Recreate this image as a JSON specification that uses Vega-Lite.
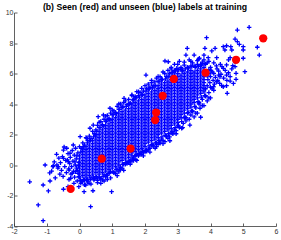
{
"$schema": "https://vega.github.io/schema/vega-lite/v6.json",
"width": 262, "height": 213.5,
"autosize": {"type": "none"},
"padding": {"left": 14, "top": 12.5, "right": 5, "bottom": 14},
"title": {"text": "(b) Seen (red) and unseen (blue) labels at training", "font": "Liberation Sans", "fontSize": 8.7, "fontWeight": "bold", "color": "#000000", "offset": -2.7, "anchor": "middle"},
"config": {"view": {"stroke": null}, "axis": {"grid": false, "domainColor": "#3a3a3a", "domainWidth": 0.8, "tickColor": "#3a3a3a", "tickWidth": 0.8, "tickSize": -3, "labelFont": "Liberation Sans", "labelFontSize": 7, "labelColor": "#333333", "labelPadding": 4, "labelOverlap": false, "labelFlush": false, "title": null}},
"datasets": {
"red": [{"x":-0.27,"y":-1.57},{"x":0.68,"y":0.41},{"x":1.56,"y":1.08},{"x":2.31,"y":2.95},{"x":2.34,"y":3.44},{"x":2.54,"y":4.54},{"x":2.88,"y":5.64},{"x":3.85,"y":6.05},{"x":4.78,"y":6.9},{"x":5.61,"y":8.31}],
"blue": [
{"x":0,"y":-0.8},{"x":0,"y":-0.6},{"x":0,"y":-0.4},{"x":0,"y":-0.2},{"x":0,"y":0},{"x":0,"y":0.2},{"x":0,"y":0.4},{"x":0,"y":0.6},
{"x":0.1,"y":-0.7},{"x":0.1,"y":-0.5},{"x":0.1,"y":-0.3},{"x":0.1,"y":-0.1},{"x":0.1,"y":0.1},{"x":0.1,"y":0.3},{"x":0.1,"y":0.5},{"x":0.1,"y":0.7},{"x":0.1,"y":0.9},
{"x":0.2,"y":-0.8},{"x":0.2,"y":-0.6},{"x":0.2,"y":-0.4},{"x":0.2,"y":-0.2},{"x":0.2,"y":0},{"x":0.2,"y":0.2},{"x":0.2,"y":0.4},{"x":0.2,"y":0.6},{"x":0.2,"y":0.8},{"x":0.2,"y":1},{"x":0.2,"y":1.2},
{"x":0.3,"y":-0.7},{"x":0.3,"y":-0.5},{"x":0.3,"y":-0.3},{"x":0.3,"y":-0.1},{"x":0.3,"y":0.1},{"x":0.3,"y":0.3},{"x":0.3,"y":0.5},{"x":0.3,"y":0.7},{"x":0.3,"y":0.9},{"x":0.3,"y":1.1},{"x":0.3,"y":1.3},
{"x":0.4,"y":-0.6},{"x":0.4,"y":-0.4},{"x":0.4,"y":-0.2},{"x":0.4,"y":0},{"x":0.4,"y":0.2},{"x":0.4,"y":0.4},{"x":0.4,"y":0.6},{"x":0.4,"y":0.8},{"x":0.4,"y":1},{"x":0.4,"y":1.2},{"x":0.4,"y":1.4},{"x":0.4,"y":1.6},
{"x":0.5,"y":-0.5},{"x":0.5,"y":-0.3},{"x":0.5,"y":-0.1},{"x":0.5,"y":0.1},{"x":0.5,"y":0.3},{"x":0.5,"y":0.5},{"x":0.5,"y":0.7},{"x":0.5,"y":0.9},{"x":0.5,"y":1.1},{"x":0.5,"y":1.3},{"x":0.5,"y":1.5},{"x":0.5,"y":1.7},{"x":0.5,"y":1.9},
{"x":0.6,"y":-0.6},{"x":0.6,"y":-0.4},{"x":0.6,"y":-0.2},{"x":0.6,"y":0},{"x":0.6,"y":0.2},{"x":0.6,"y":0.4},{"x":0.6,"y":0.6},{"x":0.6,"y":0.8},{"x":0.6,"y":1},{"x":0.6,"y":1.2},{"x":0.6,"y":1.4},{"x":0.6,"y":1.6},{"x":0.6,"y":1.8},{"x":0.6,"y":2},{"x":0.6,"y":2.2},
{"x":0.7,"y":-0.5},{"x":0.7,"y":-0.3},{"x":0.7,"y":-0.1},{"x":0.7,"y":0.1},{"x":0.7,"y":0.3},{"x":0.7,"y":0.5},{"x":0.7,"y":0.7},{"x":0.7,"y":0.9},{"x":0.7,"y":1.1},{"x":0.7,"y":1.3},{"x":0.7,"y":1.5},{"x":0.7,"y":1.7},{"x":0.7,"y":1.9},{"x":0.7,"y":2.1},{"x":0.7,"y":2.3},
{"x":0.8,"y":-0.4},{"x":0.8,"y":-0.2},{"x":0.8,"y":0},{"x":0.8,"y":0.2},{"x":0.8,"y":0.4},{"x":0.8,"y":0.6},{"x":0.8,"y":0.8},{"x":0.8,"y":1},{"x":0.8,"y":1.2},{"x":0.8,"y":1.4},{"x":0.8,"y":1.6},{"x":0.8,"y":1.8},{"x":0.8,"y":2},{"x":0.8,"y":2.2},{"x":0.8,"y":2.4},{"x":0.8,"y":2.6},
{"x":0.9,"y":-0.3},{"x":0.9,"y":-0.1},{"x":0.9,"y":0.1},{"x":0.9,"y":0.3},{"x":0.9,"y":0.5},{"x":0.9,"y":0.7},{"x":0.9,"y":0.9},{"x":0.9,"y":1.1},{"x":0.9,"y":1.3},{"x":0.9,"y":1.5},{"x":0.9,"y":1.7},{"x":0.9,"y":1.9},{"x":0.9,"y":2.1},{"x":0.9,"y":2.3},{"x":0.9,"y":2.5},{"x":0.9,"y":2.7},
{"x":1,"y":-0.2},{"x":1,"y":0},{"x":1,"y":0.2},{"x":1,"y":0.4},{"x":1,"y":0.6},{"x":1,"y":0.8},{"x":1,"y":1},{"x":1,"y":1.2},{"x":1,"y":1.4},{"x":1,"y":1.6},{"x":1,"y":1.8},{"x":1,"y":2},{"x":1,"y":2.2},{"x":1,"y":2.4},{"x":1,"y":2.6},{"x":1,"y":2.8},{"x":1,"y":3},
{"x":1.1,"y":-0.1},{"x":1.1,"y":0.1},{"x":1.1,"y":0.3},{"x":1.1,"y":0.5},{"x":1.1,"y":0.7},{"x":1.1,"y":0.9},{"x":1.1,"y":1.1},{"x":1.1,"y":1.3},{"x":1.1,"y":1.5},{"x":1.1,"y":1.7},{"x":1.1,"y":1.9},{"x":1.1,"y":2.1},{"x":1.1,"y":2.3},{"x":1.1,"y":2.5},{"x":1.1,"y":2.7},{"x":1.1,"y":2.9},{"x":1.1,"y":3.1},
{"x":1.2,"y":0},{"x":1.2,"y":0.2},{"x":1.2,"y":0.4},{"x":1.2,"y":0.6},{"x":1.2,"y":0.8},{"x":1.2,"y":1},{"x":1.2,"y":1.2},{"x":1.2,"y":1.4},{"x":1.2,"y":1.6},{"x":1.2,"y":1.8},{"x":1.2,"y":2},{"x":1.2,"y":2.2},{"x":1.2,"y":2.4},{"x":1.2,"y":2.6},{"x":1.2,"y":2.8},{"x":1.2,"y":3},{"x":1.2,"y":3.2},{"x":1.2,"y":3.4},
{"x":1.3,"y":0.3},{"x":1.3,"y":0.5},{"x":1.3,"y":0.7},{"x":1.3,"y":0.9},{"x":1.3,"y":1.1},{"x":1.3,"y":1.3},{"x":1.3,"y":1.5},{"x":1.3,"y":1.7},{"x":1.3,"y":1.9},{"x":1.3,"y":2.1},{"x":1.3,"y":2.3},{"x":1.3,"y":2.5},{"x":1.3,"y":2.7},{"x":1.3,"y":2.9},{"x":1.3,"y":3.1},{"x":1.3,"y":3.3},{"x":1.3,"y":3.5},
{"x":1.4,"y":0.4},{"x":1.4,"y":0.6},{"x":1.4,"y":0.8},{"x":1.4,"y":1},{"x":1.4,"y":1.2},{"x":1.4,"y":1.4},{"x":1.4,"y":1.6},{"x":1.4,"y":1.8},{"x":1.4,"y":2},{"x":1.4,"y":2.2},{"x":1.4,"y":2.4},{"x":1.4,"y":2.6},{"x":1.4,"y":2.8},{"x":1.4,"y":3},{"x":1.4,"y":3.2},{"x":1.4,"y":3.4},{"x":1.4,"y":3.6},
{"x":1.5,"y":0.5},{"x":1.5,"y":0.7},{"x":1.5,"y":0.9},{"x":1.5,"y":1.1},{"x":1.5,"y":1.3},{"x":1.5,"y":1.5},{"x":1.5,"y":1.7},{"x":1.5,"y":1.9},{"x":1.5,"y":2.1},{"x":1.5,"y":2.3},{"x":1.5,"y":2.5},{"x":1.5,"y":2.7},{"x":1.5,"y":2.9},{"x":1.5,"y":3.1},{"x":1.5,"y":3.3},{"x":1.5,"y":3.5},{"x":1.5,"y":3.7},
{"x":1.6,"y":0.6},{"x":1.6,"y":0.8},{"x":1.6,"y":1},{"x":1.6,"y":1.2},{"x":1.6,"y":1.4},{"x":1.6,"y":1.6},{"x":1.6,"y":1.8},{"x":1.6,"y":2},{"x":1.6,"y":2.2},{"x":1.6,"y":2.4},{"x":1.6,"y":2.6},{"x":1.6,"y":2.8},{"x":1.6,"y":3},{"x":1.6,"y":3.2},{"x":1.6,"y":3.4},{"x":1.6,"y":3.6},{"x":1.6,"y":3.8},{"x":1.6,"y":4},
{"x":1.7,"y":0.9},{"x":1.7,"y":1.1},{"x":1.7,"y":1.3},{"x":1.7,"y":1.5},{"x":1.7,"y":1.7},{"x":1.7,"y":1.9},{"x":1.7,"y":2.1},{"x":1.7,"y":2.3},{"x":1.7,"y":2.5},{"x":1.7,"y":2.7},{"x":1.7,"y":2.9},{"x":1.7,"y":3.1},{"x":1.7,"y":3.3},{"x":1.7,"y":3.5},{"x":1.7,"y":3.7},{"x":1.7,"y":3.9},{"x":1.7,"y":4.1},
{"x":1.8,"y":1},{"x":1.8,"y":1.2},{"x":1.8,"y":1.4},{"x":1.8,"y":1.6},{"x":1.8,"y":1.8},{"x":1.8,"y":2},{"x":1.8,"y":2.2},{"x":1.8,"y":2.4},{"x":1.8,"y":2.6},{"x":1.8,"y":2.8},{"x":1.8,"y":3},{"x":1.8,"y":3.2},{"x":1.8,"y":3.4},{"x":1.8,"y":3.6},{"x":1.8,"y":3.8},{"x":1.8,"y":4},{"x":1.8,"y":4.2},
{"x":1.9,"y":1.1},{"x":1.9,"y":1.3},{"x":1.9,"y":1.5},{"x":1.9,"y":1.7},{"x":1.9,"y":1.9},{"x":1.9,"y":2.1},{"x":1.9,"y":2.3},{"x":1.9,"y":2.5},{"x":1.9,"y":2.7},{"x":1.9,"y":2.9},{"x":1.9,"y":3.1},{"x":1.9,"y":3.3},{"x":1.9,"y":3.5},{"x":1.9,"y":3.7},{"x":1.9,"y":3.9},{"x":1.9,"y":4.1},{"x":1.9,"y":4.3},
{"x":2,"y":1.2},{"x":2,"y":1.4},{"x":2,"y":1.6},{"x":2,"y":1.8},{"x":2,"y":2},{"x":2,"y":2.2},{"x":2,"y":2.4},{"x":2,"y":2.6},{"x":2,"y":2.8},{"x":2,"y":3},{"x":2,"y":3.2},{"x":2,"y":3.4},{"x":2,"y":3.6},{"x":2,"y":3.8},{"x":2,"y":4},{"x":2,"y":4.2},{"x":2,"y":4.4},{"x":2,"y":4.6},
{"x":2.1,"y":1.5},{"x":2.1,"y":1.7},{"x":2.1,"y":1.9},{"x":2.1,"y":2.1},{"x":2.1,"y":2.3},{"x":2.1,"y":2.5},{"x":2.1,"y":2.7},{"x":2.1,"y":2.9},{"x":2.1,"y":3.1},{"x":2.1,"y":3.3},{"x":2.1,"y":3.5},{"x":2.1,"y":3.7},{"x":2.1,"y":3.9},{"x":2.1,"y":4.1},{"x":2.1,"y":4.3},{"x":2.1,"y":4.5},{"x":2.1,"y":4.7},
{"x":2.2,"y":1.6},{"x":2.2,"y":1.8},{"x":2.2,"y":2},{"x":2.2,"y":2.2},{"x":2.2,"y":2.4},{"x":2.2,"y":2.6},{"x":2.2,"y":2.8},{"x":2.2,"y":3},{"x":2.2,"y":3.2},{"x":2.2,"y":3.4},{"x":2.2,"y":3.6},{"x":2.2,"y":3.8},{"x":2.2,"y":4},{"x":2.2,"y":4.2},{"x":2.2,"y":4.4},{"x":2.2,"y":4.6},{"x":2.2,"y":4.8},
{"x":2.3,"y":1.7},{"x":2.3,"y":1.9},{"x":2.3,"y":2.1},{"x":2.3,"y":2.3},{"x":2.3,"y":2.5},{"x":2.3,"y":2.7},{"x":2.3,"y":2.9},{"x":2.3,"y":3.1},{"x":2.3,"y":3.3},{"x":2.3,"y":3.5},{"x":2.3,"y":3.7},{"x":2.3,"y":3.9},{"x":2.3,"y":4.1},{"x":2.3,"y":4.3},{"x":2.3,"y":4.5},{"x":2.3,"y":4.7},{"x":2.3,"y":4.9},
{"x":2.4,"y":1.8},{"x":2.4,"y":2},{"x":2.4,"y":2.2},{"x":2.4,"y":2.4},{"x":2.4,"y":2.6},{"x":2.4,"y":2.8},{"x":2.4,"y":3},{"x":2.4,"y":3.2},{"x":2.4,"y":3.4},{"x":2.4,"y":3.6},{"x":2.4,"y":3.8},{"x":2.4,"y":4},{"x":2.4,"y":4.2},{"x":2.4,"y":4.4},{"x":2.4,"y":4.6},{"x":2.4,"y":4.8},{"x":2.4,"y":5},{"x":2.4,"y":5.2},
{"x":2.5,"y":2.1},{"x":2.5,"y":2.3},{"x":2.5,"y":2.5},{"x":2.5,"y":2.7},{"x":2.5,"y":2.9},{"x":2.5,"y":3.1},{"x":2.5,"y":3.3},{"x":2.5,"y":3.5},{"x":2.5,"y":3.7},{"x":2.5,"y":3.9},{"x":2.5,"y":4.1},{"x":2.5,"y":4.3},{"x":2.5,"y":4.5},{"x":2.5,"y":4.7},{"x":2.5,"y":4.9},{"x":2.5,"y":5.1},{"x":2.5,"y":5.3},
{"x":2.6,"y":2.2},{"x":2.6,"y":2.4},{"x":2.6,"y":2.6},{"x":2.6,"y":2.8},{"x":2.6,"y":3},{"x":2.6,"y":3.2},{"x":2.6,"y":3.4},{"x":2.6,"y":3.6},{"x":2.6,"y":3.8},{"x":2.6,"y":4},{"x":2.6,"y":4.2},{"x":2.6,"y":4.4},{"x":2.6,"y":4.6},{"x":2.6,"y":4.8},{"x":2.6,"y":5},{"x":2.6,"y":5.2},{"x":2.6,"y":5.4},
{"x":2.7,"y":2.3},{"x":2.7,"y":2.5},{"x":2.7,"y":2.7},{"x":2.7,"y":2.9},{"x":2.7,"y":3.1},{"x":2.7,"y":3.3},{"x":2.7,"y":3.5},{"x":2.7,"y":3.7},{"x":2.7,"y":3.9},{"x":2.7,"y":4.1},{"x":2.7,"y":4.3},{"x":2.7,"y":4.5},{"x":2.7,"y":4.7},{"x":2.7,"y":4.9},{"x":2.7,"y":5.1},{"x":2.7,"y":5.3},{"x":2.7,"y":5.5},
{"x":2.8,"y":2.4},{"x":2.8,"y":2.6},{"x":2.8,"y":2.8},{"x":2.8,"y":3},{"x":2.8,"y":3.2},{"x":2.8,"y":3.4},{"x":2.8,"y":3.6},{"x":2.8,"y":3.8},{"x":2.8,"y":4},{"x":2.8,"y":4.2},{"x":2.8,"y":4.4},{"x":2.8,"y":4.6},{"x":2.8,"y":4.8},{"x":2.8,"y":5},{"x":2.8,"y":5.2},{"x":2.8,"y":5.4},{"x":2.8,"y":5.6},{"x":2.8,"y":5.8},
{"x":2.9,"y":2.7},{"x":2.9,"y":2.9},{"x":2.9,"y":3.1},{"x":2.9,"y":3.3},{"x":2.9,"y":3.5},{"x":2.9,"y":3.7},{"x":2.9,"y":3.9},{"x":2.9,"y":4.1},{"x":2.9,"y":4.3},{"x":2.9,"y":4.5},{"x":2.9,"y":4.7},{"x":2.9,"y":4.9},{"x":2.9,"y":5.1},{"x":2.9,"y":5.3},{"x":2.9,"y":5.5},{"x":2.9,"y":5.7},{"x":2.9,"y":5.9},
{"x":3,"y":2.8},{"x":3,"y":3},{"x":3,"y":3.2},{"x":3,"y":3.4},{"x":3,"y":3.6},{"x":3,"y":3.8},{"x":3,"y":4},{"x":3,"y":4.2},{"x":3,"y":4.4},{"x":3,"y":4.6},{"x":3,"y":4.8},{"x":3,"y":5},{"x":3,"y":5.2},{"x":3,"y":5.4},{"x":3,"y":5.6},{"x":3,"y":5.8},{"x":3,"y":6},
{"x":3.1,"y":3.1},{"x":3.1,"y":3.3},{"x":3.1,"y":3.5},{"x":3.1,"y":3.7},{"x":3.1,"y":3.9},{"x":3.1,"y":4.1},{"x":3.1,"y":4.3},{"x":3.1,"y":4.5},{"x":3.1,"y":4.7},{"x":3.1,"y":4.9},{"x":3.1,"y":5.1},{"x":3.1,"y":5.3},{"x":3.1,"y":5.5},{"x":3.1,"y":5.7},{"x":3.1,"y":5.9},
{"x":3.2,"y":3.4},{"x":3.2,"y":3.6},{"x":3.2,"y":3.8},{"x":3.2,"y":4},{"x":3.2,"y":4.2},{"x":3.2,"y":4.4},{"x":3.2,"y":4.6},{"x":3.2,"y":4.8},{"x":3.2,"y":5},{"x":3.2,"y":5.2},{"x":3.2,"y":5.4},{"x":3.2,"y":5.6},{"x":3.2,"y":5.8},{"x":3.2,"y":6},
{"x":3.3,"y":3.7},{"x":3.3,"y":3.9},{"x":3.3,"y":4.1},{"x":3.3,"y":4.3},{"x":3.3,"y":4.5},{"x":3.3,"y":4.7},{"x":3.3,"y":4.9},{"x":3.3,"y":5.1},{"x":3.3,"y":5.3},{"x":3.3,"y":5.5},{"x":3.3,"y":5.7},{"x":3.3,"y":5.9},{"x":3.3,"y":6.1},
{"x":3.4,"y":3.8},{"x":3.4,"y":4},{"x":3.4,"y":4.2},{"x":3.4,"y":4.4},{"x":3.4,"y":4.6},{"x":3.4,"y":4.8},{"x":3.4,"y":5},{"x":3.4,"y":5.2},{"x":3.4,"y":5.4},{"x":3.4,"y":5.6},{"x":3.4,"y":5.8},{"x":3.4,"y":6},{"x":3.4,"y":6.2},
{"x":3.5,"y":4.1},{"x":3.5,"y":4.3},{"x":3.5,"y":4.5},{"x":3.5,"y":4.7},{"x":3.5,"y":4.9},{"x":3.5,"y":5.1},{"x":3.5,"y":5.3},{"x":3.5,"y":5.5},{"x":3.5,"y":5.7},{"x":3.5,"y":5.9},{"x":3.5,"y":6.1},
{"x":3.6,"y":4.4},{"x":3.6,"y":4.6},{"x":3.6,"y":4.8},{"x":3.6,"y":5},{"x":3.6,"y":5.2},{"x":3.6,"y":5.4},{"x":3.6,"y":5.6},{"x":3.6,"y":5.8},{"x":3.6,"y":6},{"x":3.6,"y":6.2},
{"x":3.7,"y":4.7},{"x":3.7,"y":4.9},{"x":3.7,"y":5.1},{"x":3.7,"y":5.3},{"x":3.7,"y":5.5},{"x":3.7,"y":5.7},{"x":3.7,"y":5.9},{"x":3.7,"y":6.1},{"x":3.7,"y":6.3},
{"x":3.8,"y":4.8},{"x":3.8,"y":5},{"x":3.8,"y":5.2},{"x":3.8,"y":5.4},{"x":3.8,"y":5.6},{"x":3.8,"y":5.8},{"x":3.8,"y":6},{"x":3.8,"y":6.2},{"x":3.8,"y":6.4},
{"x":-1.52,"y":-1.1},{"x":-1.26,"y":-2.62},{"x":-1.11,"y":-3.65},{"x":-1.05,"y":0},{"x":-0.95,"y":-1.7},{"x":-1.11,"y":-1.31},{"x":-0.9,"y":-1.05},{"x":-0.91,"y":-0.52},{"x":-0.81,"y":-0.11},{"x":-0.69,"y":0},{"x":-0.49,"y":-1.59},{"x":-0.35,"y":-1.42},{"x":0.34,"y":-2.73},{"x":0.41,"y":-1.69},{"x":0.14,"y":-1.75},{"x":0.65,"y":-1.2},{"x":0.98,"y":-1.75},{"x":0.04,"y":-1.2},{"x":-0.8,"y":-0.05},{"x":-0.65,"y":-0.11},{"x":-0.34,"y":0.22},{"x":-0.24,"y":-0.11},{"x":-0.49,"y":0.98},{"x":-0.39,"y":1.1},{"x":-0.19,"y":1.31},{"x":-0.29,"y":0.77},{"x":-0.49,"y":0.44},{"x":0.02,"y":1.86},{"x":0.22,"y":1.75},{"x":0.32,"y":2.41},{"x":0.42,"y":2.62},{"x":0.57,"y":3.17},{"x":0.73,"y":3.28},{"x":0.93,"y":3.72},{"x":1.36,"y":4.37},{"x":-0.32,"y":-0.33},{"x":-0.22,"y":-0.54},{"x":-0.12,"y":-0.44},{"x":-0.27,"y":-0.87},{"x":-0.02,"y":-0.77},{"x":-0.17,"y":-1.2},{"x":0.09,"y":-1.09},{"x":0.19,"y":-1.31},{"x":0.29,"y":-1.2},{"x":0.44,"y":-0.98},{"x":0.7,"y":-0.98},{"x":0.8,"y":-0.77},{"x":0.9,"y":-0.54},
{"x":-0.58,"y":0.15},{"x":-0.55,"y":-0.35},{"x":-0.52,"y":0.55},{"x":-0.5,"y":-0.75},{"x":-0.47,"y":1.18},{"x":-0.45,"y":-0.1},{"x":-0.42,"y":0.3},{"x":-0.4,"y":-0.5},{"x":-0.37,"y":0.33},{"x":-0.35,"y":0.75},{"x":-0.33,"y":-0.25},{"x":-0.32,"y":-0.95},{"x":-0.3,"y":0.1},{"x":-0.28,"y":0.5},{"x":-0.26,"y":-0.6},{"x":-0.22,"y":0.95},{"x":-0.2,"y":0.25},{"x":-0.18,"y":-0.4},{"x":-0.16,"y":0.65},{"x":-0.15,"y":-0.8},{"x":-0.13,"y":0},{"x":-0.12,"y":1.1},{"x":-0.1,"y":0.4},{"x":-0.09,"y":-0.2},{"x":-0.07,"y":-1.05},{"x":-0.05,"y":0.8},{"x":-0.04,"y":-0.55},{"x":-0.02,"y":0.15},{"x":-0.02,"y":-1.42},{"x":-0.6,"y":-0.6},{"x":-0.63,"y":0.45},{"x":-0.66,"y":-0.2},{"x":-0.7,"y":0.7},{"x":-0.74,"y":-0.85},{"x":-0.77,"y":0.2},{"x":-0.85,"y":-0.4},{"x":-0.06,"y":-0.35},{"x":-0.08,"y":0.6},{"x":-0.14,"y":0.2},{"x":-0.03,"y":-0.05},
{"x":0.15,"y":-1},{"x":0.25,"y":-0.95},{"x":0.35,"y":-0.85},{"x":0.5,"y":-0.75},{"x":0.55,"y":-1},{"x":0.6,"y":-0.8},{"x":0.75,"y":-0.65},{"x":0.85,"y":-0.95},{"x":0.95,"y":-0.45},{"x":1.05,"y":-0.5},{"x":1.1,"y":-0.55},{"x":1.15,"y":-0.3},{"x":1.2,"y":-0.45},{"x":1.25,"y":-0.15},{"x":1.3,"y":-0.2},{"x":1.35,"y":0.05},{"x":1.4,"y":0.05},{"x":1.45,"y":0.2},{"x":1.5,"y":0.2},{"x":1.55,"y":0.3},{"x":1.6,"y":0.25},{"x":1.65,"y":0.45},{"x":1.69,"y":0.59},{"x":1.72,"y":0.35},{"x":1.75,"y":0.7},{"x":1.8,"y":0.6},{"x":1.85,"y":0.8},{"x":1.9,"y":0.7},{"x":1.95,"y":0.87},{"x":2,"y":0.85},{"x":2.05,"y":1},{"x":2.1,"y":1.03},{"x":2.15,"y":1.1},{"x":2.2,"y":1.3},{"x":2.25,"y":1.25},{"x":2.31,"y":1.1},{"x":2.35,"y":1.45},{"x":2.4,"y":1.35},{"x":2.46,"y":1.42},{"x":2.5,"y":1.7},{"x":2.55,"y":1.6},{"x":2.61,"y":1.53},{"x":2.65,"y":1.9},{"x":2.7,"y":1.75},{"x":2.76,"y":1.59},{"x":2.8,"y":2.1},{"x":2.85,"y":2.05},{"x":2.9,"y":2.3},{"x":2.95,"y":2.25},{"x":3,"y":2.55},{"x":3.05,"y":2.45},{"x":3.12,"y":2.41},{"x":3.17,"y":2.73},{"x":3.2,"y":3.1},{"x":3.25,"y":2.9},{"x":3.3,"y":3.4},{"x":3.37,"y":2.62},{"x":3.4,"y":3.28},{"x":3.45,"y":3.55},{"x":3.5,"y":3.15},{"x":3.55,"y":3.75},{"x":3.6,"y":3.4},{"x":3.65,"y":4},{"x":3.7,"y":3.13},{"x":3.68,"y":3.72},{"x":3.75,"y":4.3},{"x":3.8,"y":3.9},{"x":3.85,"y":4.55},{"x":3.9,"y":4.2},{"x":3.95,"y":4.75},{"x":4,"y":4.4},{"x":4.1,"y":4.9},{"x":4.09,"y":5.13},{"x":4.19,"y":5.46},{"x":4.34,"y":5.2},{"x":4.39,"y":5.13},{"x":4.51,"y":4.7},{"x":4.49,"y":5.2},{"x":4.6,"y":5.5},
{"x":0.05,"y":1.1},{"x":0.1,"y":1.45},{"x":0.15,"y":1.3},{"x":0.25,"y":1.6},{"x":0.3,"y":1.9},{"x":0.35,"y":1.75},{"x":0.45,"y":2.05},{"x":0.5,"y":2.3},{"x":0.55,"y":2.6},{"x":0.6,"y":2.45},{"x":0.65,"y":2.85},{"x":0.7,"y":2.65},{"x":0.75,"y":3},{"x":0.8,"y":2.85},{"x":0.85,"y":3.25},{"x":0.9,"y":3.05},{"x":0.95,"y":3.4},{"x":1,"y":3.3},{"x":1.05,"y":3.55},{"x":1.1,"y":3.45},{"x":1.15,"y":3.85},{"x":1.2,"y":3.65},{"x":1.25,"y":4},{"x":1.3,"y":3.8},{"x":1.35,"y":4.1},{"x":1.45,"y":3.95},{"x":1.5,"y":4.3},{"x":1.55,"y":4.05},{"x":1.6,"y":4.55},{"x":1.65,"y":4.3},{"x":1.75,"y":4.81},{"x":1.7,"y":4.5},{"x":1.8,"y":4.55},{"x":1.85,"y":4.75},{"x":1.9,"y":5.03},{"x":1.95,"y":4.85},{"x":2.03,"y":5.9},{"x":2.05,"y":5},{"x":2.1,"y":5.3},{"x":2.15,"y":5.1},{"x":2.2,"y":5.55},{"x":2.25,"y":5.2},{"x":2.3,"y":5.45},{"x":2.35,"y":5.7},{"x":2.4,"y":5.5},{"x":2.46,"y":5.79},{"x":2.5,"y":5.6},{"x":2.55,"y":6.1},{"x":2.61,"y":6.82},{"x":2.65,"y":5.8},{"x":2.71,"y":6.77},{"x":2.7,"y":6.2},{"x":2.75,"y":6},{"x":2.8,"y":6.4},{"x":2.85,"y":6.1},{"x":2.9,"y":6.6},{"x":2.97,"y":6.34},{"x":3,"y":6.25},{"x":3.05,"y":6.8},{"x":3.1,"y":6.4},{"x":3.15,"y":6.2},{"x":3.2,"y":6.55},{"x":3.25,"y":7.21},{"x":3.29,"y":7.65},{"x":3.3,"y":6.4},{"x":3.35,"y":6.9},{"x":3.4,"y":6.5},{"x":3.45,"y":6.7},{"x":3.5,"y":7.21},{"x":3.55,"y":6.45},{"x":3.6,"y":6.85},{"x":3.63,"y":6.93},{"x":3.66,"y":7},{"x":3.7,"y":6.55},{"x":3.75,"y":6.75},{"x":3.8,"y":7.2},{"x":3.83,"y":7.65},{"x":3.88,"y":8.35},{"x":3.85,"y":6.6},{"x":3.93,"y":7.04},{"x":3.95,"y":6.8},{"x":4,"y":6.4},{"x":4.04,"y":7.48},{"x":4.05,"y":6.1},{"x":4.1,"y":6.7},{"x":4.14,"y":7.65},{"x":4.19,"y":7.04},{"x":4.2,"y":6.3},{"x":4.25,"y":5.9},{"x":4.29,"y":5.79},{"x":4.3,"y":6.6},{"x":4.39,"y":6.34},{"x":4.39,"y":7.76},{"x":4.44,"y":7.54},{"x":4.49,"y":7.82},{"x":4.49,"y":6.56},{"x":4.49,"y":5.9},{"x":4.55,"y":6.9},{"x":4.6,"y":7.04},{"x":4.62,"y":7.76},{"x":4.65,"y":7.54},{"x":4.68,"y":6.51},{"x":4.75,"y":6.77},{"x":4.75,"y":6.45},{"x":4.75,"y":8.26},{"x":4.78,"y":6.01},{"x":4.78,"y":5.62},{"x":4.82,"y":8.85},{"x":4.82,"y":8.09},{"x":4.88,"y":7.91},{"x":5,"y":7.76},{"x":5,"y":7.54},{"x":5,"y":7},{"x":5.05,"y":6.12},{"x":5.18,"y":9.03},{"x":5.43,"y":7.72},{"x":5.49,"y":7.21},
{"x":3.9,"y":5.2},{"x":3.92,"y":5.6},{"x":3.95,"y":6},{"x":3.98,"y":5.4},{"x":4,"y":5.8},{"x":4.02,"y":6.2},{"x":4.05,"y":5},{"x":4.08,"y":5.55},{"x":4.1,"y":6},{"x":4.12,"y":5.3},{"x":4.15,"y":5.75},{"x":4.18,"y":6.5},{"x":4.22,"y":5.55},{"x":4.25,"y":6.15},{"x":4.28,"y":5.35},{"x":4.32,"y":5.95},{"x":4.35,"y":6.45},{"x":4.4,"y":5.7},{"x":4.45,"y":6.2},{"x":4.5,"y":5.55},{"x":4.55,"y":6.05},{"x":4.6,"y":5.8},{"x":4.65,"y":6.3},{"x":4.7,"y":5.35},{"x":3.85,"y":5},{"x":3.9,"y":5.85},{"x":3.95,"y":6.25},{"x":4,"y":5.1},
{"x":0.05,"y":-1.1},{"x":0.1,"y":1.05},{"x":0.25,"y":-1.1},{"x":0.3,"y":1.6},{"x":0.45,"y":-0.9},{"x":0.5,"y":2},{"x":0.65,"y":-0.9},{"x":0.7,"y":2.6},{"x":0.85,"y":-0.7},{"x":0.9,"y":3},{"x":1.05,"y":-0.5},{"x":1.1,"y":3.4},{"x":1.25,"y":-0.3},{"x":1.3,"y":3.8},{"x":1.45,"y":0.1},{"x":1.5,"y":4},{"x":1.65,"y":0.3},{"x":1.7,"y":4.4},{"x":1.85,"y":0.7},{"x":1.9,"y":4.6},{"x":2.05,"y":0.9},{"x":2.1,"y":5},{"x":2.25,"y":1.3},{"x":2.3,"y":5.2},{"x":2.45,"y":1.5},{"x":2.5,"y":5.6},{"x":2.65,"y":1.9},{"x":2.7,"y":5.8},{"x":2.85,"y":2.1},{"x":2.9,"y":6.2},{"x":3.05,"y":2.5},{"x":3.1,"y":6.3},{"x":3.25,"y":3.1},{"x":3.3,"y":6.4},{"x":3.45,"y":3.5},{"x":3.5,"y":6.5},{"x":3.65,"y":4.1},{"x":3.7,"y":6.6},{"x":3.85,"y":4.5},{"x":3.9,"y":6.7},
{"x":0.15,"y":-1.3},{"x":0,"y":1.2},{"x":0.35,"y":-1.25},{"x":0.2,"y":1.8},{"x":0.55,"y":-1.15},{"x":0.4,"y":2.2},{"x":0.75,"y":-1.05},{"x":0.6,"y":2.8},{"x":0.95,"y":-0.85},{"x":0.8,"y":3.2},{"x":1.15,"y":-0.7},{"x":1,"y":3.6},{"x":1.35,"y":-0.35},{"x":1.2,"y":4},{"x":1.55,"y":0.05},{"x":1.4,"y":4.2},{"x":1.75,"y":0.3},{"x":1.6,"y":4.6},{"x":1.95,"y":0.6},{"x":1.8,"y":4.8},{"x":2.15,"y":0.85},{"x":2,"y":5.2},{"x":2.35,"y":1.2},{"x":2.2,"y":5.4},{"x":2.55,"y":1.4},{"x":2.4,"y":5.8},{"x":2.75,"y":1.85},{"x":2.6,"y":6},{"x":2.95,"y":2.05},{"x":2.8,"y":6.3},{"x":3.15,"y":2.45},{"x":3,"y":6.6},{"x":3.35,"y":3},{"x":3.2,"y":6.75},{"x":3.55,"y":3.4},{"x":3.4,"y":6.8},{"x":3.75,"y":3.9},{"x":3.6,"y":6.6},{"x":3.95,"y":4.4},{"x":3.8,"y":6.9},
{"x":0.03,"y":-1},{"x":0.12,"y":-0.95},{"x":0.22,"y":-1},{"x":0.33,"y":-0.95},{"x":0.42,"y":-0.8},{"x":0.52,"y":-0.8},{"x":0.62,"y":-0.85},{"x":0.72,"y":-0.75},{"x":0.82,"y":-0.65},{"x":0.92,"y":-0.5},{"x":1.02,"y":-0.45},{"x":1.12,"y":-0.3},{"x":1.22,"y":-0.25},{"x":1.32,"y":0.05},{"x":1.42,"y":0.15},{"x":1.52,"y":0.25},{"x":1.62,"y":0.4},{"x":1.72,"y":0.65},{"x":1.82,"y":0.75},{"x":1.92,"y":0.9},{"x":2.02,"y":0.95},{"x":2.12,"y":1.25},{"x":2.22,"y":1.35},{"x":2.32,"y":1.45},{"x":2.42,"y":1.6},{"x":2.52,"y":1.85},{"x":2.62,"y":1.95},{"x":2.72,"y":2.05},{"x":2.82,"y":2.2},{"x":2.92,"y":2.45},{"x":3.02,"y":2.6},{"x":3.12,"y":2.85},{"x":3.22,"y":3.15},{"x":3.32,"y":3.45},{"x":3.42,"y":3.55},{"x":3.52,"y":3.85},{"x":3.62,"y":4.15},{"x":3.72,"y":4.45},{"x":3.82,"y":4.55},
{"x":0.04,"y":0.85},{"x":0.13,"y":1.2},{"x":0.24,"y":1.45},{"x":0.34,"y":1.6},{"x":0.43,"y":1.85},{"x":0.53,"y":2.2},{"x":0.63,"y":2.45},{"x":0.74,"y":2.55},{"x":0.83,"y":2.9},{"x":0.93,"y":2.95},{"x":1.03,"y":3.3},{"x":1.13,"y":3.35},{"x":1.23,"y":3.65},{"x":1.33,"y":3.8},{"x":1.43,"y":3.85},{"x":1.53,"y":4},{"x":1.63,"y":4.25},{"x":1.73,"y":4.4},{"x":1.83,"y":4.45},{"x":1.93,"y":4.6},{"x":2.03,"y":4.85},{"x":2.13,"y":5},{"x":2.23,"y":5.05},{"x":2.33,"y":5.2},{"x":2.43,"y":5.45},{"x":2.53,"y":5.6},{"x":2.63,"y":5.65},{"x":2.73,"y":5.8},{"x":2.83,"y":6.05},{"x":2.93,"y":6.15},{"x":3.03,"y":6.25},{"x":3.13,"y":6.15},{"x":3.23,"y":6.3},{"x":3.33,"y":6.35},{"x":3.43,"y":6.45},{"x":3.53,"y":6.4},{"x":3.63,"y":6.45},{"x":3.73,"y":6.55},{"x":3.83,"y":6.65}
]},
"encoding": {
  "x": {"field": "x", "type": "quantitative", "scale": {"domain": [-2, 6], "nice": false, "zero": false}, "axis": {"values": [-2,-1,0,1,2,3,4,5,6], "labelOverlap": false, "labelFlush": false, "labelExpr": "(datum.value < 0 ? '-' : '') + abs(datum.value)"}},
  "y": {"field": "y", "type": "quantitative", "scale": {"domain": [-4, 10], "nice": false, "zero": false}, "axis": {"values": [-4,-2,0,2,4,6,8,10], "labelOverlap": false, "labelFlush": false, "labelExpr": "(datum.value < 0 ? '-' : '') + abs(datum.value)"}}
},
"layer": [
{"data": {"name": "blue"}, "mark": {"type": "point", "shape": "M-1,0H1M0,-1V1", "filled": false, "stroke": "#0000ff", "strokeWidth": 1.3, "size": 20, "opacity": 1}},
{"data": {"name": "red"}, "mark": {"type": "circle", "color": "#ff0000", "size": 68, "opacity": 1}}
]
}
